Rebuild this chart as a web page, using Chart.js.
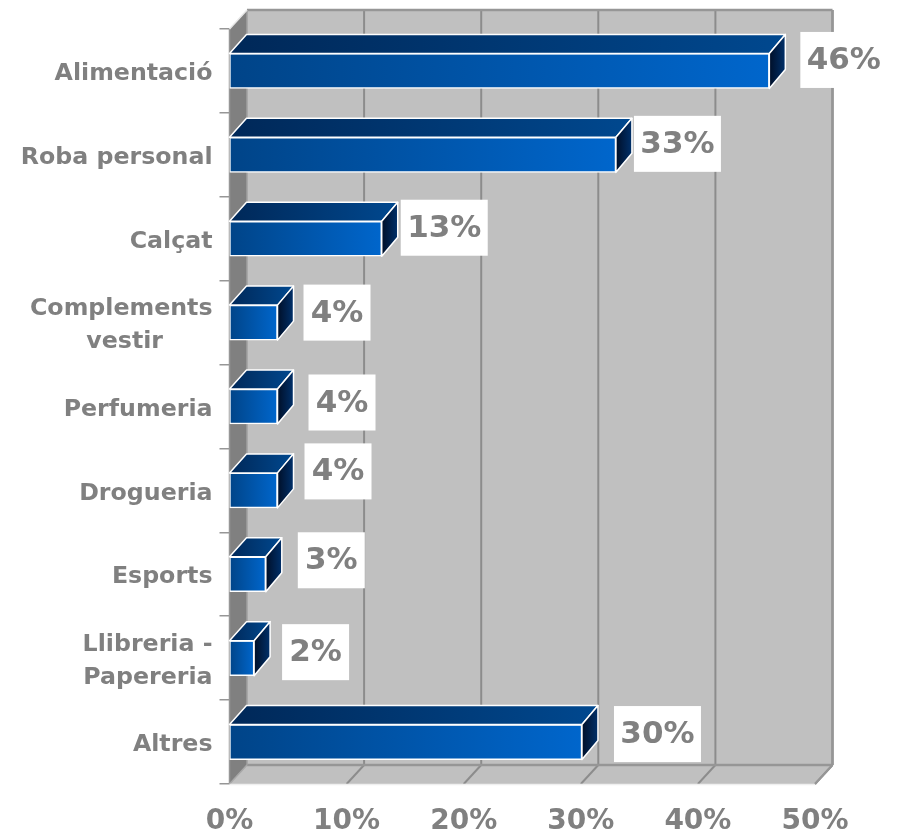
<!DOCTYPE html>
<html>
<head>
<meta charset="utf-8">
<style>html,body{margin:0;padding:0;background:#fff}canvas{display:block}</style>
<script src="https://cdn.jsdelivr.net/npm/chart.js@4"></script>
</head>
<body>
<canvas id="c" width="897" height="831"></canvas>
<script>
const categories = ["Alimentació","Roba personal","Calçat",["Complements","vestir"],"Perfumeria","Drogueria","Esports",["Llibreria -","Papereria"],"Altres"];
const values = [46.1,33,13,4.1,4.1,4.1,3.1,2.1,30.1];
const valueLabels = ["46%","33%","13%","4%","4%","4%","3%","2%","30%"];
const xTicks = [0,10,20,30,40,50];
// manual placement of the label boxes relative to the bar tip and band centre
const labelDx = [31,18,19,26,31,27,32,28,32];
const labelDy = [-11,-11,-11,-10,-4,-19,-14,-6,-8];

const FF = '"DejaVu Sans", Verdana, sans-serif';
const GREY = '#808080';
const DX = 17.5, DY = -19;   // wall depth
const BDX = 16, BDY = -19;   // bar depth

const measure = document.createElement('canvas').getContext('2d');
function centredLines(label){
  if(!Array.isArray(label)) return label;
  measure.font = 'bold 23.7px ' + FF;
  const w = label.map(l => measure.measureText(l).width);
  const max = Math.max(...w);
  const nb = measure.measureText('\u00A0').width;
  return label.map((l,i) => l + '\u00A0'.repeat(Math.round((max-w[i])/2/nb)));
}
function poly(ctx, pts, fill, stroke, lw){
  ctx.beginPath();
  pts.forEach((p,i)=> i?ctx.lineTo(p[0],p[1]):ctx.moveTo(p[0],p[1]));
  ctx.closePath();
  if(fill){ctx.fillStyle=fill;ctx.fill();}
  if(stroke){ctx.strokeStyle=stroke;ctx.lineWidth=lw||1;ctx.lineJoin='round';ctx.stroke();}
}
function line(ctx,x1,y1,x2,y2,c,w){
  ctx.beginPath();ctx.moveTo(x1,y1);ctx.lineTo(x2,y2);ctx.strokeStyle=c;ctx.lineWidth=w;ctx.stroke();
}
function hGrad(ctx,x0,x1,c0,c1){
  const g=ctx.createLinearGradient(x0,0,x1,0);g.addColorStop(0,c0);g.addColorStop(1,c1);return g;
}

const walls = {
  id:'walls',
  beforeDatasetsDraw(chart){
    const {ctx,chartArea:a,scales:{x}} = chart;
    ctx.save();
    poly(ctx,[[a.left+DX,a.top+DY],[a.right+DX,a.top+DY],[a.right+DX,a.bottom+DY],[a.left+DX,a.bottom+DY]],'#c0c0c0');
    poly(ctx,[[a.left,a.bottom],[a.right,a.bottom],[a.right+DX,a.bottom+DY],[a.left+DX,a.bottom+DY]],'#c0c0c0');
    poly(ctx,[[a.left,a.top],[a.left+DX,a.top+DY],[a.left+DX,a.bottom+DY],[a.left,a.bottom]],'#808080');
    xTicks.forEach(v=>{
      const px=x.getPixelForValue(v);
      if(v>0){
        line(ctx,px+DX,a.top+DY,px+DX,a.bottom+DY,'#8c8c8c',2);
        line(ctx,px,a.bottom,px+DX,a.bottom+DY,'#8c8c8c',2);
      }
    });
    line(ctx,a.left+DX,a.top+DY,a.right+DX,a.top+DY,'#969696',2.5);
    line(ctx,a.right+DX,a.top+DY,a.right+DX,a.bottom+DY,'#969696',2.5);
    line(ctx,a.left+DX,a.bottom+DY,a.right+DX,a.bottom+DY,'#969696',2.5);
    line(ctx,a.left+DX,a.top+DY,a.left+DX,a.bottom+DY,'#a0a0a0',1.5);
    line(ctx,a.left,a.top,a.left,a.bottom,'#969696',1.5);
    line(ctx,a.right,a.bottom,a.right+DX,a.bottom+DY,'#969696',2);
    line(ctx,a.left,a.bottom,a.left+DX,a.bottom+DY,'#a8a8a8',1.5);
    line(ctx,a.left,a.top,a.left+DX,a.top+DY,'#e8e8e8',1.5);
    line(ctx,a.left,a.bottom+0.5,a.right,a.bottom+0.5,'#efefef',1.5);
    ctx.restore();
  },
  afterDatasetsDraw(chart){
    const {ctx} = chart;
    const bars = chart.getDatasetMeta(0).data;
    ctx.save();
    bars.forEach(b=>{
      const t=b.y-b.height/2, bt=b.y+b.height/2, l=b.base, r=b.x;
      poly(ctx,[[l,t],[r,t],[r+BDX,t+BDY],[l+BDX+1,t+BDY]],hGrad(ctx,l,r+BDX,'#002858','#00488f'),'#ffffff',1.5);
      poly(ctx,[[r,t],[r+BDX,t+BDY],[r+BDX,bt+BDY],[r,bt]],hGrad(ctx,r,r+BDX,'#000f28','#00306a'),'#ffffff',1.5);
    });
    ctx.restore();
  },
  afterDraw(chart){
    const {ctx} = chart;
    const bars = chart.getDatasetMeta(0).data;
    ctx.save();
    ctx.font='bold 31px '+FF;
    ctx.textAlign='center';ctx.textBaseline='middle';
    bars.forEach((b,i)=>{
      const w = valueLabels[i].length>2 ? 87 : 67, h = 56;
      const left=b.x+labelDx[i], cy=b.y+labelDy[i];
      ctx.fillStyle='#ffffff';
      ctx.fillRect(left,cy-h/2,w,h);
      ctx.fillStyle=GREY;
      ctx.fillText(valueLabels[i],left+w/2,cy+1);
    });
    ctx.restore();
  }
};

new Chart(document.getElementById('c'),{
  type:'bar',
  data:{labels:categories,datasets:[{
    data:values,
    barThickness:35,
    borderWidth:1.5,
    borderColor:'#ffffff',
    borderSkipped:false,
    backgroundColor(c){
      const a=c.chart.chartArea;
      if(!a||c.raw===undefined) return '#0058ac';
      const x=c.chart.scales.x;
      return hGrad(c.chart.ctx,x.getPixelForValue(0),x.getPixelForValue(c.raw),'#004488','#0066cc');
    }
  }]},
  options:{
    indexAxis:'y',
    responsive:false,
    animation:false,
    layout:{padding:{top:29,right:82,left:0,bottom:0}},
    plugins:{legend:{display:false},tooltip:{enabled:false}},
    scales:{
      x:{
        min:0,max:50,
        grid:{display:false},
        border:{display:false},
        afterFit(s){s.height=47;},
        afterBuildTicks(s){s.ticks=xTicks.map(v=>({value:v}));},
        ticks:{
          maxRotation:0,autoSkip:false,padding:13,
          color:GREY,font:{family:FF,size:28,weight:'bold'},
          callback:v=>v+'%'
        }
      },
      y:{
        grid:{display:true,drawOnChartArea:false,drawTicks:true,tickLength:10,color:'#969696',lineWidth:1.5},
        border:{display:false},
        afterFit(s){s.width=229.5;},
        ticks:{
          autoSkip:false,padding:7,labelOffset:3,
          color:GREY,font:{family:FF,size:23.7,weight:'bold',lineHeight:1.4},
          callback(v){return centredLines(categories[v]);}
        }
      }
    }
  },
  plugins:[walls]
});
</script>
</body>
</html>
